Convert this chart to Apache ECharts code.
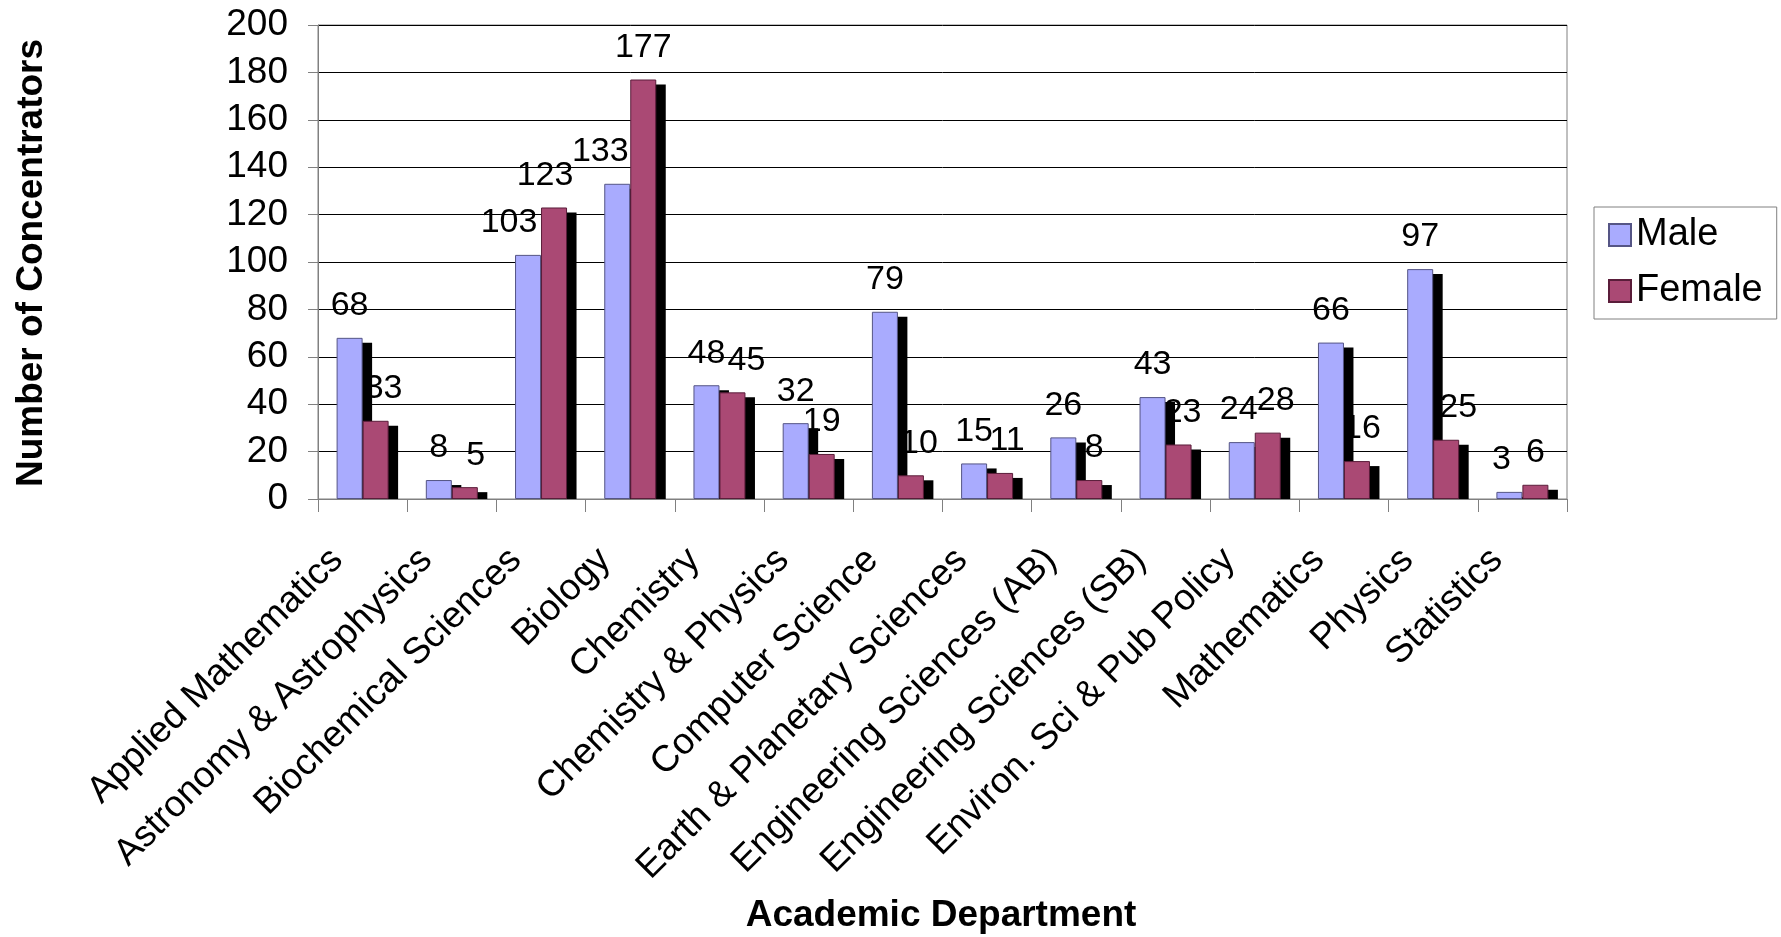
<!DOCTYPE html>
<html>
<head>
<meta charset="utf-8">
<script src="https://cdn.jsdelivr.net/npm/echarts@6/dist/echarts.min.js"></script>
<style>
  html, body { margin: 0; padding: 0; background: #fff; }
  #concentrators-chart { width: 1781px; height: 937px; }
</style>
</head>
<body>
<div id="concentrators-chart"></div>
<script>
var departments = ['Applied Mathematics', 'Astronomy & Astrophysics', 'Biochemical Sciences', 'Biology',
	'Chemistry', 'Chemistry & Physics', 'Computer Science', 'Earth & Planetary Sciences',
	'Engineering Sciences (AB)', 'Engineering Sciences (SB)', 'Environ. Sci & Pub Policy',
	'Mathematics', 'Physics', 'Statistics'];
var maleCounts   = [68, 8, 103, 133, 48, 32, 79, 15, 26, 43, 24, 66, 97, 3];
var femaleCounts = [33, 5, 123, 177, 45, 19, 10, 11, 8, 23, 28, 16, 25, 6];
var seriesNames = ['Male', 'Female'];
var yMin = 0, yMax = 200, yStep = 20;

// small sideways nudges of the value labels (px), as placed in the original
var maleLabelShift   = [0, 0, -19, -17, 0, 0, 0, 0, 0, 0, -3, 0, 0, -8];
var femaleLabelShift = [8, 11, -9, 0, 14, 0, 8, 7, 5, 4, 8, 5, 12, 0];

var FONT = '"Liberation Sans", Arial, sans-serif';
var BAR_W = 26;
var SHADOW_DX = 9.5, SHADOW_DY = 5;
var LABEL_GAP = 15;

function concentratorsChart(){
	var chart = echarts.init(document.getElementById('concentrators-chart'));

	// value labels + black drop shadows; shadows sit over the labels, bars over both
	var overlayData = [];
	maleCounts.forEach(function(v, i){ overlayData.push([i, v, 0, maleLabelShift[i]]); });
	femaleCounts.forEach(function(v, i){ overlayData.push([i, v, 1, femaleLabelShift[i]]); });

	function renderOverlay(params, api){
		var val = api.value(1);
		var top = api.coord([api.value(0), val]);
		var base = api.coord([api.value(0), 0]);
		var barX = top[0] + (api.value(2) === 0 ? -BAR_W : 0);
		var y = top[1] + SHADOW_DY;
		return {
			type: 'group',
			children: [
				{
					type: 'text', z2: 0,
					style: {
						text: String(val),
						x: barX + BAR_W / 2 + api.value(3),
						y: top[1] - LABEL_GAP,
						align: 'center', verticalAlign: 'bottom',
						font: '34px ' + FONT, fill: '#000'
					}
				},
				{
					type: 'rect', z2: 1,
					shape: {x: barX + SHADOW_DX, y: y, width: BAR_W, height: Math.max(0, base[1] - y)},
					style: {fill: '#000'}
				}
			]
		};
	}

	var option = {
		animation: false,
		textStyle: {fontFamily: FONT},
		grid: {
			left: 318, right: 214, top: 25, bottom: 438,
			show: true, borderColor: '#808080', borderWidth: 1
		},
		legend: {
			data: seriesNames,
			orient: 'vertical',
			left: 1594, top: 207,
			padding: [9, 14, 9, 14],
			itemWidth: 22, itemHeight: 22,
			itemGap: 18, itemTextGap: 13,
			icon: 'rect',
			borderColor: '#808080', borderWidth: 1,
			textStyle: {fontSize: 38, color: '#000', fontFamily: FONT}
		},
		xAxis: {
			type: 'category',
			data: departments,
			axisLine: {lineStyle: {color: '#808080', width: 1}},
			axisTick: {show: true, length: 13, lineStyle: {color: '#808080'}},
			axisLabel: {
				interval: 0, rotate: 45, margin: 30,
				padding: [0, 36, 0, 0],
				fontSize: 37, color: '#000', fontFamily: FONT
			}
		},
		yAxis: {
			type: 'value',
			min: yMin, max: yMax, interval: yStep,
			axisLine: {show: true, lineStyle: {color: '#808080', width: 1}},
			axisTick: {show: true, length: 10, lineStyle: {color: '#808080'}},
			axisLabel: {margin: 30, fontSize: 37, color: '#000', fontFamily: FONT},
			splitLine: {lineStyle: {color: '#000', width: 1}}
		},
		graphic: [
			{
				type: 'text', x: 32, y: 263, rotation: Math.PI / 2,
				style: {
					text: 'Number of Concentrators', fill: '#000',
					font: 'bold 37px ' + FONT, align: 'center', verticalAlign: 'middle'
				}
			},
			{
				type: 'text', x: 941, y: 916,
				style: {
					text: 'Academic Department', fill: '#000',
					font: 'bold 37px ' + FONT, align: 'center', verticalAlign: 'middle'
				}
			}
		],
		series: [
			{
				type: 'custom',
				name: 'overlay',
				z: 1,
				silent: true,
				renderItem: renderOverlay,
				encode: {x: 0, y: 1},
				data: overlayData
			},
			{
				name: seriesNames[0],
				type: 'bar',
				z: 2,
				barWidth: BAR_W,
				barGap: '0%',
				itemStyle: {color: '#A9ABFE', borderColor: '#555585', borderWidth: 1},
				data: maleCounts
			},
			{
				name: seriesNames[1],
				type: 'bar',
				z: 2,
				barWidth: BAR_W,
				barGap: '0%',
				itemStyle: {color: '#AA4974', borderColor: '#5a1d3a', borderWidth: 1},
				data: femaleCounts
			}
		]
	};

	chart.setOption(option);
}

concentratorsChart();
</script>
</body>
</html>
